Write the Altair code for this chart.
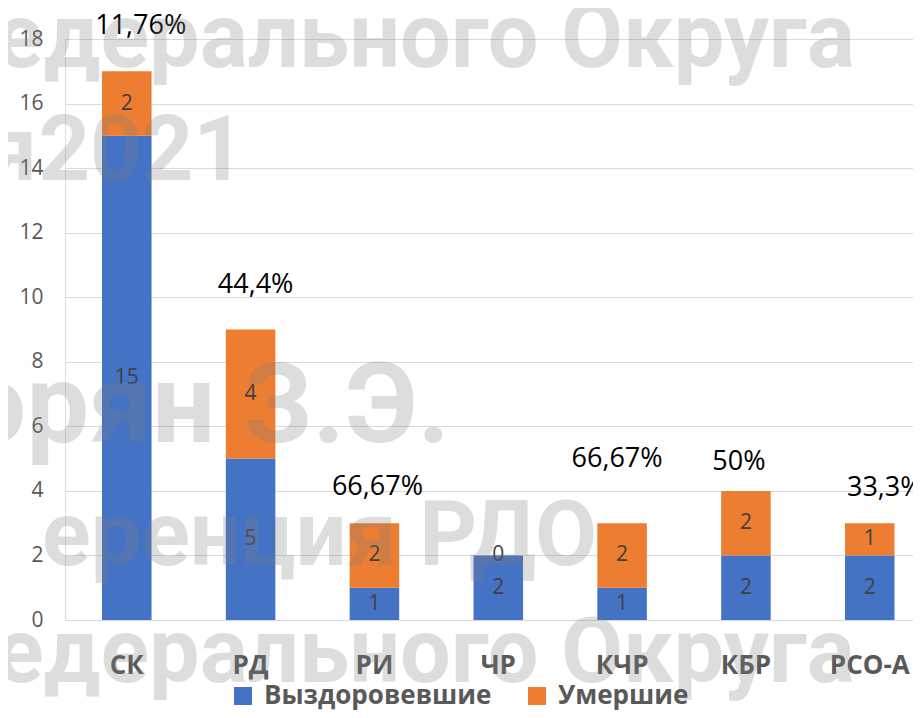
import altair as alt
import pandas as pd

categories = ["СК", "РД", "РИ", "ЧР", "КЧР", "КБР", "РСО-А"]
recovered = [15, 5, 1, 2, 1, 2, 2]
died = [2, 4, 2, 0, 2, 2, 1]
pct_text = ["11,76%", "44,4%", "66,67%", "", "66,67%", "50%", "33,3%"]
# vertical placement of the percentage labels (in axis units), as placed in the source
pct_level = [18.4, 10.39, 4.12, None, 5.0, 4.89, 4.1]
pct_dx = [14, 5, 3, 0, -5, -7, 15]
series = ["Выздоровевшие", "Умершие"]
colors = ["#4472C4", "#ED7D31"]

rows = []
for c, r, d in zip(categories, recovered, died):
    rows.append({"cat": c, "series": series[0], "value": r, "ord": 0})
    rows.append({"cat": c, "series": series[1], "value": d, "ord": 1})
long_df = pd.DataFrame(rows)

HALF_BAND = 24.77
pct_df = pd.DataFrame({"cat": categories, "pct": pct_text, "lvl": pct_level,
                       "dx": [d + HALF_BAND for d in pct_dx]}).dropna()

FONT = "Open Sans"
xscale = alt.Scale(domain=categories, paddingInner=0.6, paddingOuter=0.224, align=0.667)
yscale = alt.Scale(domain=[0, 18], nice=False)

base = alt.Chart(long_df).transform_stack(
    stack="value", groupby=["cat"], as_=["y0", "y1"], sort=[{"field": "ord", "order": "ascending"}]
).transform_calculate(mid="(datum.y0 + datum.y1) / 2")

bars = base.mark_bar().encode(
    x=alt.X("cat:N", scale=xscale, sort=categories, title=None,
            axis=alt.Axis(labelFont=FONT, labelFontSize=26, labelFontWeight="bold", labelColor="#595959",
                          labelAngle=0, ticks=False, domain=False, labelPadding=45, labelBaseline="middle")),
    y=alt.Y("y0:Q", scale=yscale, title=None,
            axis=alt.Axis(values=list(range(0, 19, 2)), labelFont=FONT, labelFontSize=21, labelColor="#595959",
                          ticks=False, domain=False, gridColor="#d9d9d9", gridWidth=1.2, labelPadding=22)),
    y2="y1:Q",
    color=alt.Color("series:N", scale=alt.Scale(domain=series, range=colors), title=None,
                    legend=alt.Legend(orient="none", legendX=165, legendY=644, direction="horizontal",
                                      symbolType="square", symbolSize=324, symbolStrokeWidth=0,
                                      labelFont=FONT, labelFontSize=26, labelFontWeight="bold",
                                      labelColor="#595959", labelLimit=400, labelOffset=8,
                                      columnPadding=32)),
)

seg_labels = base.mark_text(font=FONT, fontSize=21, color="#404040", baseline="middle").encode(
    x=alt.X("cat:N", scale=xscale, sort=categories),
    y=alt.Y("mid:Q", scale=yscale),
    text=alt.Text("value:Q"),
)

pct_labels = alt.Chart(pct_df).mark_text(font=FONT, fontSize=27, color="#000000", baseline="middle").encode(
    x=alt.X("cat:N", scale=xscale, sort=categories),
    xOffset=alt.XOffset("dx:Q", scale=None),
    y=alt.Y("lvl:Q", scale=yscale),
    text="pct:N",
)

def watermark(text, x, y, size, align):
    return alt.Chart(pd.DataFrame({"t": [text]})).mark_text(
        font="Roboto", fontWeight="bold", fontSize=size, color="#7f7f7f", opacity=0.26,
        align=align, baseline="alphabetic"
    ).encode(x=alt.value(x), y=alt.value(y), text="t:N")

wm = [
    watermark("Федерального Округа", 790, 28, 90, "right"),
    watermark("я", -28, 141, 90, "right"),
    watermark("2021", 180, 141, 90, "right"),
    watermark("орян З.Э.", 385, 403, 112, "right"),
    watermark("еренция РДО", 532, 526, 90, "right"),
    watermark("Федерального Округа", 790, 643, 90, "right"),
]

chart = alt.layer(bars, seg_labels, pct_labels, *wm).properties(
    width=848, height=581,
    autosize=alt.AutoSizeParams(type="none"),
    padding={"left": 57, "top": 31, "right": 0, "bottom": 90},
).configure_view(stroke=None).configure(background="white")

chart.save("out.html", embed_options={"renderer": "svg", "actions": False})
